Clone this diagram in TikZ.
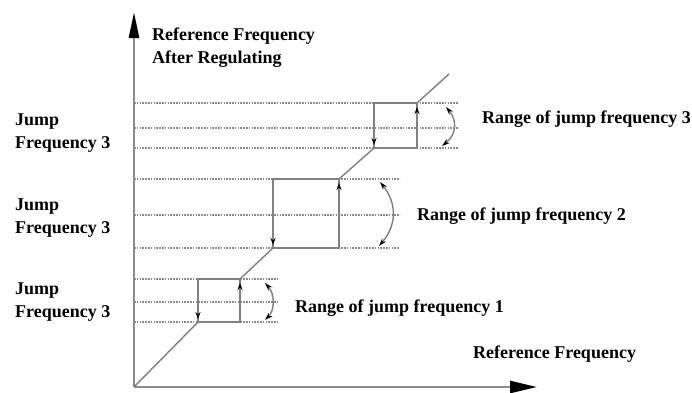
\documentclass[tikz,border=0pt]{standalone}
\usepackage{fontspec}
\setmainfont{Liberation Serif}
\usetikzlibrary{arrows.meta}

\tikzset{
    axisline/.style={line width=2.6pt, draw=gray!90},
    levelline/.style={dash pattern=on 1.6pt off 1.2pt, line width=1.6pt, draw=gray!90},
    boxline/.style={line width=1.4pt, draw=gray},
    tip/.style={arrows={-Stealth[length=7pt,width=5pt,color=black]}},
    bothtips/.style={arrows={Stealth[length=8pt,width=5pt,color=black]-Stealth[length=8pt,width=5pt,color=black]}},
    txt/.style={inner sep=0pt, font=\fontsize{18}{23}\selectfont\bfseries, align=left},
}

\begin{document}
\begin{tikzpicture}[x=1pt, y=-1pt]
    \useasboundingbox (0,0) rectangle (692,392);

    % Axes
    \coordinate (O) at (134,387);
    \coordinate (ytip) at (134,12);
    \coordinate (xtip) at (537,387);
    \draw[axisline, -{Triangle[length=26pt,width=10pt,color=black]}] (O) -- (ytip);
    \draw[axisline, -{Triangle[length=27pt,width=12pt,color=black]}] (O) -- (xtip);

    % Jump levels (dotted)
    \foreach \ya/\yb/\yc/\xe in {279/302/322/278, 179/215/248/400, 103/128/148/458} {
        \foreach \y in {\ya,\yb,\yc}
            \draw[levelline] (134,\y) -- (\xe,\y);
    }

    % Jump boxes
    \foreach \xl/\xr/\yt/\yb in {198/240/279/322, 273/339/179/248, 374/417/103/148} {
        \draw[boxline] (\xl,\yt) rectangle (\xr,\yb);
        \draw[boxline, tip, shorten >=3pt] (\xl,\yt) -- (\xl,\yb);
        \draw[boxline, tip, shorten >=4pt] (\xr,\yb) -- (\xr,\yt);
    }

    % Regulated frequency
    \draw[boxline] (O) -- (198,322)
        (240,279) -- (273,248)
        (339,179) -- (374,148)
        (417,103) -- (449,74);

    % Ranges
    \draw[boxline, bothtips] (265,283) .. controls (275,294) and (275,310) .. (265,320);
    \draw[boxline, bothtips] (380,182) .. controls (397,203) and (397,225) .. (379,246);
    \draw[boxline, bothtips] (446,107) .. controls (457,120) and (457,134) .. (442,146);

    % Labels
    \node[txt, anchor=base west] (ylab) at (152,63) {Reference Frequency\\After Regulating};
    \node[txt, anchor=base west] (xlab) at (473,358) {Reference Frequency};
    \node[txt, anchor=base west] (jump3) at (15,148) {Jump\\Frequency 3};
    \node[txt, anchor=base west] (jump2) at (15,233) {Jump\\Frequency 3};
    \node[txt, anchor=base west] (jump1) at (15,317) {Jump\\Frequency 3};
    \node[txt, anchor=base west] (range3) at (482,123) {Range of jump frequency 3};
    \node[txt, anchor=base west] (range2) at (417,220) {Range of jump frequency 2};
    \node[txt, anchor=base west] (range1) at (295,312) {Range of jump frequency 1};
\end{tikzpicture}
\end{document}
